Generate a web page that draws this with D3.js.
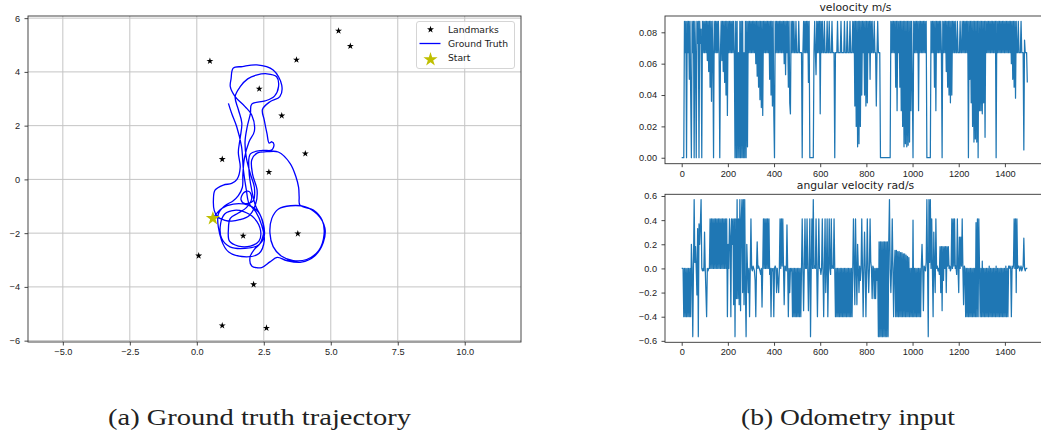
<!DOCTYPE html>
<html>
<head>
<meta charset="utf-8">
<script src="https://cdn.jsdelivr.net/npm/d3@7"></script>
<style>
  body { margin: 0; background: #fff; }
  svg { display: block; font-family: "DejaVu Sans", sans-serif; }
  .axis text { font-size: 9.2px; fill: #222; }
  .axis path, .axis line { stroke: #333; stroke-width: 0.9; }
  .caption { font-family: "Liberation Serif", serif; font-size: 24px; fill: #222; }
</style>
</head>
<body>
<svg width="1041" height="435"></svg>
<script>
// landmarks (map units)
var landmarkX = [5.29, 5.73, 0.49, 3.72, 2.33, 3.17, 4.05, 0.95, 2.69, 1.73, 3.77, 0.07, 2.12, 0.95, 2.60];
var landmarkY = [5.53, 4.96, 4.40, 4.45, 3.37, 2.37, 0.96, 0.75, 0.27, -2.10, -2.02, -2.84, -3.91, -5.44, -5.53];
var startPoint = [0.60, -1.45];

// ground truth trajectory
var groundTruth = [
  [0.60,-1.45],[0.93,-1.08],[1.36,-0.92],[1.92,-0.96],[2.29,-1.21],[2.48,-1.64],[2.51,-2.14],[2.29,-2.45],[1.80,-2.57],
  [1.24,-2.51],[0.93,-2.20],[0.89,-1.64],[1.05,-1.28],[1.40,-1.15],[1.75,-1.20],[2.15,-1.45],[2.38,-1.90],[2.32,-2.30],
  [2.00,-2.48],[1.55,-2.48],[1.22,-2.30],[1.18,-1.85],[1.25,-1.45],[1.55,-1.25],[1.85,-1.05],[2.05,-0.70],[1.95,-0.45],
  [1.75,-0.50],[1.65,-0.75],[1.80,-0.90],[2.10,-0.80],[2.15,-0.30],[2.00,0.20],[1.85,0.80],[1.80,1.40],[1.88,1.95],
  [2.00,2.45],[2.05,2.80],[2.55,2.92],[2.90,3.10],[3.05,3.45],[2.98,3.82],[2.62,3.93],[2.22,3.88],[1.90,3.74],
  [1.62,3.45],[1.43,3.08],[1.55,2.60],[1.68,2.10],[1.62,1.55],[1.55,1.00],[1.62,0.45],[1.50,0.00],[1.30,-0.15],
  [0.99,-0.21],[0.68,-0.40],[0.62,-0.77],[0.65,-1.15],[0.78,-1.40],[1.05,-1.52],[1.30,-1.55],[1.60,-1.50],[1.95,-1.35],
  [2.20,-0.90],[2.25,-0.40],[2.08,0.20],[2.05,0.72],[2.25,0.98],[2.61,1.03],[3.04,1.02],[3.48,0.60],[3.70,0.10],
  [3.80,-0.30],[3.82,-0.65],[3.85,-0.96],[4.35,-1.14],[4.68,-1.52],[4.75,-2.05],[4.55,-2.65],[4.10,-2.98],[3.60,-3.02],
  [3.15,-2.85],[2.85,-2.50],[2.73,-2.00],[2.80,-1.45],[3.05,-1.10],[3.50,-0.98],[4.05,-1.02],[4.50,-1.30],[4.78,-1.80],
  [4.72,-2.35],[4.40,-2.85],[3.90,-3.08],[3.35,-3.02],[3.00,-2.90],[2.73,-3.07],[2.42,-3.28],[2.05,-3.22],[1.99,-2.88],
  [2.15,-2.60],[2.35,-2.40],[2.50,-1.90],[2.40,-1.40],[2.20,-1.00],[2.05,-0.40],[1.95,0.30],[2.00,0.95],[2.45,1.08],
  [2.79,1.09],[2.88,1.30],[2.80,1.40],[2.70,1.35],[2.62,1.70],[2.52,2.20],[2.45,2.60],[2.73,2.89],[3.10,3.08],
  [3.17,3.51],[2.85,4.07],[2.24,4.26],[1.70,4.20],[1.36,4.14],[1.28,3.75],[1.25,3.45],[1.43,3.08],[1.80,2.71],
  [2.05,2.40],[2.15,1.80],[1.95,1.40],[1.78,0.80],[1.72,0.20],[1.70,-0.30],[1.55,-0.60],[1.35,-0.80],[1.05,-0.98],
  [0.80,-1.30],[0.92,-2.26],[1.19,-2.70],[1.85,-2.88],[2.32,-2.76],[2.52,-2.26],[2.42,-1.70],[2.20,-1.20],[1.95,-0.90],
  [1.85,-0.40],[1.74,0.35],[1.67,1.22],[1.49,1.96],[1.30,2.46],[1.18,2.83]
];

var trajXTicks = [-5, -2.5, 0, 2.5, 5, 7.5, 10];
var trajYTicks = [-6, -4, -2, 0, 2, 4, 6];

// odometry, one value every 3 samples
var sampleStep = 3;
// velocity levels that repeat a lot (m/s)
var H = 0.087, B = 0.067;
var velocity = [
  0,0,0,0,H,B,H,0,H,B,H,0.05,H,0.04,0,H,B,H,0,H,
  B,0,H,0.073,H,0,H,0.073,0.082,0,H,B,H,B,H,B,H,0.062,H,0.055,
  H,0.045,H,0.036,H,B,0,H,B,H,B,H,B,H,B,0,B,H,0.062,H,
  0.055,H,0.048,H,0.04,H,0.027,H,B,H,B,H,B,H,B,H,B,0,H,0,
  H,0,B,0,H,0,H,0,H,0,B,0,H,0,H,0.007,H,B,H,B,
  H,B,H,B,H,B,H,0.06,H,0.052,H,0.045,H,0.037,H,0.032,H,0.027,H,B,
  H,B,H,B,H,B,H,0.05,H,0.04,H,0.033,H,0.028,0,H,B,H,B,H,
  B,H,B,H,B,H,B,H,0.06,H,0.053,H,B,H,0.045,H,0.035,0.028,H,B,
  H,B,H,B,B,H,B,B,B,H,B,B,B,B,0,B,H,B,H,B,
  H,B,H,0.048,H,0,0,0,0,0,0,B,H,B,0.053,H,B,H,B,H,
  0.028,H,B,H,B,B,H,B,B,B,H,B,B,H,B,B,B,H,B,B,
  B,0,B,B,B,H,B,B,B,B,H,B,B,B,B,H,B,B,B,H,
  B,B,B,H,B,B,B,H,B,H,0.033,H,0.02,H,0.007,H,0.009,H,0.02,H,
  0.04,H,B,H,0.04,H,0.033,H,0.035,H,B,H,0.05,H,B,H,B,B,H,B,
  B,0.033,B,H,B,B,B,0,0,0,0,0,0,0,0,0,0,0,0,0,
  0,0,H,B,H,B,H,B,H,0.045,H,0.03,H,B,H,0.045,H,0.03,H,0.02,
  H,0.007,H,0.009,H,0.007,H,0.008,H,0.01,H,0.03,H,0.045,0,H,B,H,B,H,
  B,H,0.03,H,B,H,B,H,B,H,B,H,B,H,0,0,0,0,0,0,
  H,B,H,B,H,0.045,H,0.03,H,B,H,B,H,B,H,B,0,H,B,H,
  B,H,0.055,H,0.045,H,0.04,H,0.035,H,0.04,H,B,H,B,H,B,B,H,B,
  B,B,H,B,B,H,B,H,B,H,B,H,B,H,0,H,0.05,H,0.035,H,
  0.02,H,0.01,H,0.012,H,0.01,H,0,H,0.03,H,0.03,H,0.028,H,0.035,H,0.013,H,
  B,H,B,H,B,H,B,H,B,H,B,H,B,H,0,H,B,H,B,H,
  B,H,B,H,B,H,B,H,B,H,B,H,B,H,B,H,0.06,H,0.05,H,
  0.045,H,0.038,H,B,B,H,B,B,B,H,B,B,B,0.005,0.075,B,B,B,0.048
];
// angular velocity levels that repeat a lot (rad/s)
var U = 0.41, L = -0.4, P = 0.57, N = -0.565;
var angular = [
  0,0,0,L,0,L,0,L,0,L,0,L,0,L,0.2,0,N,0,P,0.05,
  0.18,0,-0.22,0.33,N,0.37,0.2,0.37,P,0,-0.02,0,-0.02,0.3,0,-0.2,L,0,-0.02,0,
  0,U,0,U,0,U,0,U,0,U,0,U,0,U,0,U,0,U,0,U,
  0,U,0,U,0,U,L,0.2,0,U,0.27,L,U,0.2,U,-0.3,U,N,U,-0.25,
  P,-0.25,U,-0.3,P,-0.35,U,P,-0.2,P,-0.3,P,-0.2,N,0.2,0,-0.2,0,L,0,
  U,0,-0.02,0.02,0,-0.02,-0.1,L,0,0.22,0,0.02,0,-0.02,-0.05,0,-0.32,0,U,0,
  U,0,U,0,U,0,U,-0.05,0,L,0,-0.02,0,L,0,0.02,0,-0.2,0,-0.1,
  -0.2,0,U,0,U,0.02,U,0,-0.3,0.02,0,-0.02,0.36,0,L,0,-0.2,0,-0.02,0,
  L,0,L,0,L,0,L,0,L,0,L,0,L,0,U,0,-0.35,0,U,0,
  0,U,0,-0.35,0,U,N,0,U,0,P,0,0.02,0,U,0,L,0,U,0,
  0,-0.05,0,U,0,L,0,U,-0.2,0,U,L,0,U,0,-0.05,U,0,0.02,0,
  U,0,L,0,L,0,L,0,L,0,L,0,L,0,L,0,L,0,L,0,
  L,0,L,0,L,0,L,0,U,0,-0.3,U,0,-0.3,0.2,0,-0.2,0.02,-0.1,0,
  U,0,L,0,0.3,0,L,0,U,0,-0.2,0,U,0.05,0,-0.25,0.02,0,-0.25,0,
  -0.25,0,-0.1,0,N,0.22,N,0.22,N,0.22,N,0.22,N,0.22,N,0.22,N,0.22,N,0.22,
  P,0,-0.2,0,U,0,L,0,0.15,L,0.15,L,0.14,L,0.14,L,0.13,L,0.13,L,
  0.12,L,0.12,L,0.11,L,0.1,L,0.09,L,0,L,0,L,0.4,L,0,L,0,L,
  0,L,0,L,0,L,0.02,0.2,0,-0.35,0.02,0,-0.02,0.05,P,0,N,P,0.05,P,
  0,U,0,L,0.3,0,-0.2,U,0,0.02,-0.02,0,-0.05,0.18,-0.2,0.18,-0.35,0.18,-0.1,0.18,
  0,0.18,-0.2,0.18,0.02,0.18,0,0.02,-0.02,0,U,0,U,0.02,U,0,0.02,-0.05,U,0,
  -0.2,0.26,0,0.26,0.02,U,0,-0.3,0.02,0,L,0,L,0,L,0,L,0,L,0,
  L,0,L,0,L,0.38,L,U,L,U,0,L,0,L,0.06,L,0,L,0,L,
  0,L,0,L,0.02,L,0,L,0,L,0,L,0,L,0.02,L,0,L,0,L,
  0,L,0,L,0,L,0,L,0.02,L,0,L,0.02,0,0.02,0,L,0.02,0,0.02,
  U,0,U,-0.2,U,0,0.02,0.02,-0.02,0,0.02,-0.02,0,0.02,0.25,0,-0.02,0,0,0
];
var odoXTicks = [0, 200, 400, 600, 800, 1000, 1200, 1400];
var velTicks = [0, 0.02, 0.04, 0.06, 0.08];
var angTicks = [-0.6, -0.4, -0.2, 0, 0.2, 0.4, 0.6];

var svg = d3.select("svg");
svg.append("rect").attr("width", 1041).attr("height", 435).attr("fill", "#fff");

// ---- (a) trajectory ----
var A = {left: 28, right: 521, top: 16, bottom: 342};
var xa = d3.scaleLinear().domain([-6.3, 12.1]).range([A.left, A.right]);
var ya = d3.scaleLinear().domain([-6.05, 6.08]).range([A.bottom, A.top]);

var ga = svg.append("g");
ga.append("g").selectAll("line").data(trajXTicks).enter().append("line")
    .attr("x1", function(d) { return xa(d); }).attr("x2", function(d) { return xa(d); })
    .attr("y1", A.top).attr("y2", A.bottom)
    .attr("stroke", "#c4c4c4").attr("stroke-width", 1);
ga.append("g").selectAll("line").data(trajYTicks).enter().append("line")
    .attr("y1", function(d) { return ya(d); }).attr("y2", function(d) { return ya(d); })
    .attr("x1", A.left).attr("x2", A.right)
    .attr("stroke", "#c4c4c4").attr("stroke-width", 1);

svg.append("clipPath").attr("id", "clipA").append("rect")
    .attr("x", A.left).attr("y", A.top).attr("width", A.right - A.left).attr("height", A.bottom - A.top);

ga.append("path")
    .datum(groundTruth)
    .attr("clip-path", "url(#clipA)")
    .attr("fill", "none")
    .attr("stroke", "#0000ff")
    .attr("stroke-width", 1.3)
    .attr("d", d3.line()
      .x(function(d) { return xa(d[0]); })
      .y(function(d) { return ya(d[1]); })
      .curve(d3.curveCatmullRom.alpha(0.5)));

var smallStar = d3.symbol().type(d3.symbolStar).size(15);
var bigStar = d3.symbol().type(d3.symbolStar).size(62);

ga.selectAll(".lm").data(landmarkX).enter().append("path")
    .attr("class", "lm")
    .attr("d", smallStar)
    .attr("fill", "#000")
    .attr("transform", function(d, i) { return "translate(" + xa(d) + "," + ya(landmarkY[i]) + ")"; });

ga.append("path")
    .attr("d", bigStar)
    .attr("fill", "#bfbf00")
    .attr("transform", "translate(" + xa(startPoint[0]) + "," + ya(startPoint[1]) + ")");

ga.append("rect")
    .attr("x", A.left).attr("y", A.top).attr("width", A.right - A.left).attr("height", A.bottom - A.top)
    .attr("fill", "none").attr("stroke", "#333").attr("stroke-width", 0.9);

ga.append("g").attr("class", "axis")
    .attr("transform", "translate(0," + A.bottom + ")")
    .call(d3.axisBottom(xa).tickValues(trajXTicks).tickFormat(d3.format(".1f")).tickSize(3.5).tickPadding(3))
    .call(function(g) { g.select(".domain").remove(); });
ga.append("g").attr("class", "axis")
    .attr("transform", "translate(" + A.left + ",0)")
    .call(d3.axisLeft(ya).tickValues(trajYTicks).tickFormat(d3.format("d")).tickSize(3.5).tickPadding(4.5))
    .call(function(g) { g.select(".domain").remove(); });

// legend
var lg = ga.append("g").attr("font-size", "9.2px").attr("fill", "#222");
lg.append("rect").attr("x", 416.5).attr("y", 21.5).attr("width", 98).attr("height", 47).attr("rx", 2.5)
    .attr("fill", "#fff").attr("fill-opacity", 0.85).attr("stroke", "#d0d0d0").attr("stroke-width", 0.9);
lg.append("path").attr("d", smallStar).attr("fill", "#000").attr("transform", "translate(430.5,29.5)");
lg.append("line").attr("x1", 419.5).attr("x2", 440.5).attr("y1", 43.5).attr("y2", 43.5)
    .attr("stroke", "#0000ff").attr("stroke-width", 1.3);
lg.append("path").attr("d", bigStar).attr("fill", "#bfbf00").attr("transform", "translate(430.5,59.5)");
lg.selectAll("text").data(["Landmarks", "Ground Truth", "Start"]).enter().append("text")
    .attr("x", 448).attr("y", function(d, i) { return 32.5 + i * 14.4; })
    .text(function(d) { return d; });

// ---- (b) odometry ----
var Bx = {left: 665, right: 1046};
var xo = d3.scaleLinear().domain([-72.3, 1578]).range([Bx.left, Bx.right]);

function odoPanel(values, domain, top, bottom, ticks, fmt, title, id) {
  var y = d3.scaleLinear().domain(domain).range([bottom, top]);
  var g = svg.append("g");
  svg.append("clipPath").attr("id", id).append("rect")
      .attr("x", Bx.left).attr("y", top).attr("width", Bx.right - Bx.left).attr("height", bottom - top);
  g.append("path")
      .datum(values)
      .attr("clip-path", "url(#" + id + ")")
      .attr("fill", "none")
      .attr("stroke", "#1f77b4")
      .attr("stroke-width", 1.25)
      .attr("stroke-linejoin", "round")
      .attr("d", d3.line()
        .x(function(d, i) { return xo(i * sampleStep); })
        .y(function(d) { return y(d); }));
  g.append("rect")
      .attr("x", Bx.left).attr("y", top).attr("width", Bx.right - Bx.left).attr("height", bottom - top)
      .attr("fill", "none").attr("stroke", "#333").attr("stroke-width", 0.9);
  g.append("g").attr("class", "axis")
      .attr("transform", "translate(0," + bottom + ")")
      .call(d3.axisBottom(xo).tickValues(odoXTicks).tickFormat(d3.format("d")).tickSize(3.5).tickPadding(3))
      .call(function(s) { s.select(".domain").remove(); });
  g.append("g").attr("class", "axis")
      .attr("transform", "translate(" + Bx.left + ",0)")
      .call(d3.axisLeft(y).tickValues(ticks).tickFormat(d3.format(fmt)).tickSize(3.5).tickPadding(4.5))
      .call(function(s) { s.select(".domain").remove(); });
  g.append("text")
      .attr("x", (Bx.left + Bx.right) / 2).attr("y", top - 5)
      .attr("text-anchor", "middle")
      .attr("font-size", "10.8px").attr("fill", "#222")
      .text(title);
}

odoPanel(velocity, [-0.0038, 0.0904], 16, 163.7, velTicks, ".2f", "veloocity m/s", "clipV");
odoPanel(angular, [-0.612, 0.614], 194.3, 342.3, angTicks, ".1f", "angular velocity rad/s", "clipW");

// captions
svg.append("text").attr("class", "caption").attr("x", 108).attr("y", 425)
    .attr("textLength", 303).attr("lengthAdjust", "spacingAndGlyphs")
    .text("(a) Ground truth trajectory");
svg.append("text").attr("class", "caption").attr("x", 741).attr("y", 425)
    .attr("textLength", 214).attr("lengthAdjust", "spacingAndGlyphs")
    .text("(b) Odometry input");
</script>
</body>
</html>
